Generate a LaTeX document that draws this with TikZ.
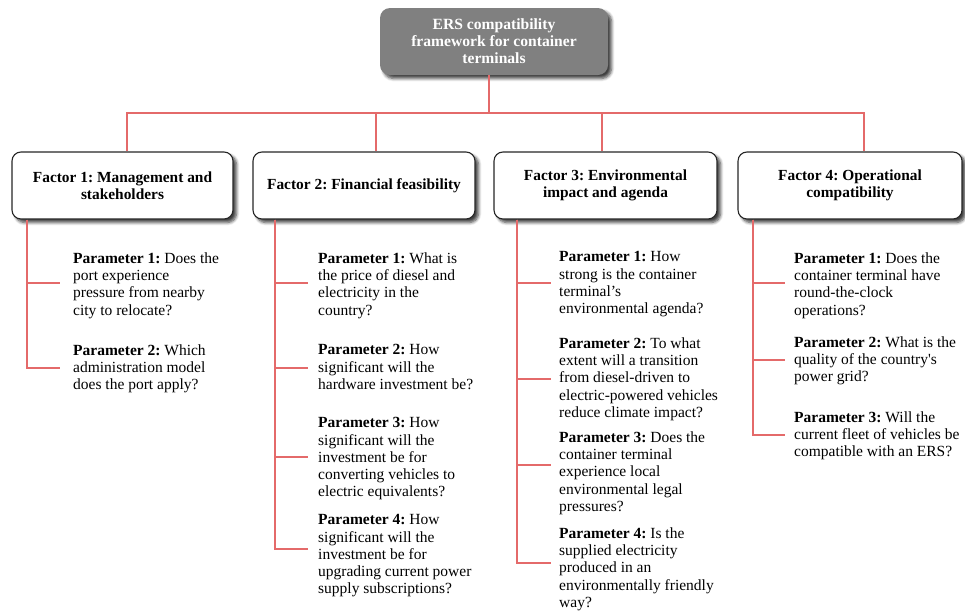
\documentclass[tikz,border=0pt]{standalone}
\usepackage{fontspec}
\setmainfont{Liberation Serif}
\usetikzlibrary{shadows.blur}
\definecolor{linkred}{RGB}{228,106,106}
\definecolor{rootgray}{RGB}{128,128,128}
\frenchspacing
\begin{document}
\begin{tikzpicture}[x=1pt,y=-1pt,
  link/.style={draw=linkred, line width=1.5pt},
  boxshadow/.style={blur shadow={shadow xshift=3.5pt, shadow yshift=-3.5pt,
      shadow blur steps=6, shadow blur radius=3pt, shadow opacity=75}},
  rootbox/.style={boxshadow, fill=rootgray, draw=none, rounded corners=10pt,
      minimum width=228pt, minimum height=67pt, inner sep=0pt, align=center,
      text=white, font=\bfseries\fontsize{15.6}{17}\selectfont},
  factorbox/.style={boxshadow, fill=white, draw=black!85, line width=1.1pt,
      rounded corners=9pt, minimum height=67pt, inner sep=0pt, align=center,
      font=\bfseries\fontsize{15.4}{16.8}\selectfont},
  param/.style={anchor=north west, inner sep=0pt, align=left,
      font=\fontsize{15.5}{17.2}\selectfont},
]
\useasboundingbox (0,0) rectangle (965,613);

% root and factor boxes
\node[rootbox] (root) at (494,41.5) {ERS compatibility\\framework for container\\terminals};
\node[factorbox, minimum width=221pt] (f1) at (122.5,185.5) {Factor 1: Management and\\stakeholders};
\node[factorbox, minimum width=222pt] (f2) at (364,185.5) {Factor 2: Financial feasibility};
\node[factorbox, minimum width=223pt] (f3) at (605.5,185.5) {Factor 3: Environmental\\impact and agenda};
\node[factorbox, minimum width=224pt] (f4) at (850,185.5) {Factor 4: Operational\\compatibility};

% bus from the root to the four factors
\coordinate (bus) at (489,113);
\coordinate (b1) at (127,113);
\coordinate (b2) at (376,113);
\coordinate (b3) at (602,113);
\coordinate (b4) at (864,113);
\draw[link] (root.south -| bus) -- (bus);
\draw[link] (b1 |- f1.north) -- (b1) -- (b4) -- (b4 |- f4.north);
\draw[link] (b2) -- (b2 |- f2.north);
\draw[link] (b3) -- (b3 |- f3.north);

% parameters
\node[param] (p11) at (73,252.5) {\textbf{Parameter 1:} Does the\\port experience\\pressure from nearby\\city to relocate?};
\node[param] (p12) at (73,344.5) {\textbf{Parameter 2:} Which\\administration model\\does the port apply?};

\node[param] (p21) at (318,252.5) {\textbf{Parameter 1:} What is\\the price of diesel and\\electricity in the\\country?};
\node[param] (p22) at (318,344.5) {\textbf{Parameter 2:} How\\significant will the\\hardware investment be?};
\node[param] (p23) at (318,417.5) {\textbf{Parameter 3:} How\\significant will the\\investment be for\\converting vehicles to\\electric equivalents?};
\node[param] (p24) at (318,514.5) {\textbf{Parameter 4:} How\\significant will the\\investment be for\\upgrading current power\\supply subscriptions?};

\node[param] (p31) at (559,251.5) {\textbf{Parameter 1:} How\\strong is the container\\terminal’s\\environmental agenda?};
\node[param] (p32) at (559,337.5) {\textbf{Parameter 2:} To what\\extent will a transition\\from diesel-driven to\\electric-powered vehicles\\reduce climate impact?};
\node[param] (p33) at (559,431.5) {\textbf{Parameter 3:} Does the\\container terminal\\experience local\\environmental legal\\pressures?};
\node[param] (p34) at (559,527.5) {\textbf{Parameter 4:} Is the\\supplied electricity\\produced in an\\environmentally friendly\\way?};

\node[param] (p41) at (794,252.5) {\textbf{Parameter 1:} Does the\\container terminal have\\round-the-clock\\operations?};
\node[param] (p42) at (794,336.5) {\textbf{Parameter 2:} What is the\\quality of the country\textquotesingle s\\power grid?};
\node[param] (p43) at (794,411.5) {\textbf{Parameter 3:} Will the\\current fleet of vehicles be\\compatible with an ERS?};

% branch points: trunk x per factor, branch ends beside each parameter
\coordinate (t1) at (27,0);  \coordinate (t2) at (275,0);
\coordinate (t3) at (517,0); \coordinate (t4) at (753,0);
\coordinate (k11) at (60,283);  \coordinate (k12) at (60,368);
\coordinate (k21) at (308,283); \coordinate (k22) at (308,368);
\coordinate (k23) at (308,457); \coordinate (k24) at (308,549);
\coordinate (k31) at (551,283); \coordinate (k32) at (551,379);
\coordinate (k33) at (551,465); \coordinate (k34) at (551,563);
\coordinate (k41) at (785,283); \coordinate (k42) at (785,360);
\coordinate (k43) at (785,435);

% branches from each factor to its parameters
\foreach \f/\n in {1/2, 2/4, 3/4, 4/3} {
  \foreach \p in {1,...,\n} {
    \draw[link] (f\f.south -| t\f) |- (k\f\p);
  }
}
\end{tikzpicture}
\end{document}
